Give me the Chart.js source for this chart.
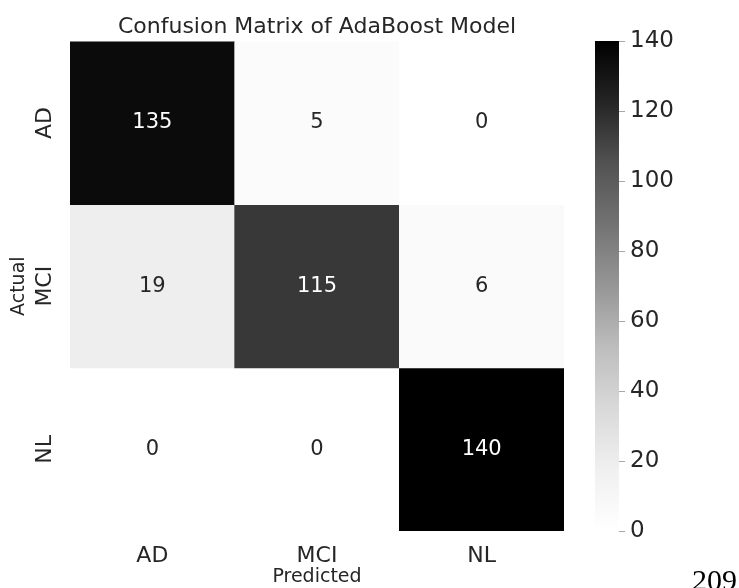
<!DOCTYPE html>
<html>
<head>
<meta charset="utf-8">
<script src="https://cdn.jsdelivr.net/npm/chart.js@4.4.1/dist/chart.umd.min.js"></script>
<style>
  html, body { margin: 0; padding: 0; background: #ffffff; width: 739px; height: 588px; overflow: hidden; }
  #wrap { position: relative; width: 739px; height: 588px; }
  #heat { position: absolute; left: 0; top: 0; }
  #cbar { position: absolute; left: 580px; top: 0; }
  #page { position: absolute; left: 692px; top: 565px; font-family: "Liberation Serif", serif; font-size: 30px; line-height: 30px; color: #000; }
</style>
</head>
<body>
<div id="wrap">
  <canvas id="heat" width="580" height="588"></canvas>
  <canvas id="cbar" width="159" height="588"></canvas>
  <div id="page">209</div>
</div>
<script>
// Class labels
const predictedLabels = ['AD', 'MCI', 'NL'];
const actualLabels = ['AD', 'MCI', 'NL'];

// Confusion-matrix counts, one array per actual class (columns = predicted class)
const countsAD = [135, 5, 0];
const countsMCI = [19, 115, 6];
const countsNL = [0, 0, 140];

// Colour scale range and tick spacing
const colorMin = 0;
const colorMax = 140;
const colorStep = 20;

const FONT = '"DejaVu Sans", sans-serif';
const TEXT = '#262626';

// "Greys" sequential palette, white -> black
const greysStops = ['#ffffff', '#f0f0f0', '#d9d9d9', '#bdbdbd', '#969696', '#737373', '#525252', '#252525', '#000000'];
function hexToRgb(h) { return [1, 3, 5].map(i => parseInt(h.substr(i, 2), 16)); }
const greysRgb = greysStops.map(hexToRgb);
function greys(t) {
  t = Math.max(0, Math.min(1, t));
  const pos = t * (greysRgb.length - 1);
  const i = Math.min(Math.floor(pos), greysRgb.length - 2);
  const f = pos - i;
  return greysRgb[i].map((c, k) => Math.round(c + (greysRgb[i + 1][k] - c) * f));
}
const rgbCss = c => `rgb(${c[0]},${c[1]},${c[2]})`;
const norm = v => (v - colorMin) / (colorMax - colorMin);
function luminance(c) {
  const lin = c.map(x => { x /= 255; return x <= 0.03928 ? x / 12.92 : Math.pow((x + 0.055) / 1.055, 2.4); });
  return 0.2126 * lin[0] + 0.7152 * lin[1] + 0.0722 * lin[2];
}

Chart.defaults.font.family = FONT;
Chart.defaults.color = TEXT;

// One dataset per actual class; each cell is a floating bar spanning its row
const rows = [countsAD, countsMCI, countsNL];
const datasets = rows.map((row, r) => ({
  label: actualLabels[r],
  data: row.map((v, c) => ({ x: predictedLabels[c], y: [r, r + 1], v: v })),
  backgroundColor: ctx => rgbCss(greys(norm(ctx.raw ? ctx.raw.v : 0))),
  borderWidth: 0,
  borderSkipped: false,
  barPercentage: 1,
  categoryPercentage: 1
}));

// Writes each count in the middle of its cell
const cellValuePlugin = {
  id: 'cellValues',
  afterDatasetsDraw(chart) {
    const ctx = chart.ctx;
    ctx.save();
    ctx.font = '21px ' + FONT;
    ctx.textAlign = 'center';
    ctx.textBaseline = 'middle';
    chart.data.datasets.forEach((ds, di) => {
      chart.getDatasetMeta(di).data.forEach((bar, i) => {
        const v = ds.data[i].v;
        const p = bar.getProps(['x', 'y', 'base'], true);
        ctx.fillStyle = luminance(greys(norm(v))) > 0.408 ? TEXT : '#ffffff';
        ctx.fillText(String(v), p.x, (p.y + p.base) / 2);
      });
    });
    ctx.restore();
  }
};

// Vertical row labels placed at the centre of each row of the y scale
const rowLabelPlugin = {
  id: 'rowLabels',
  afterDraw(chart) {
    const ys = chart.scales.y;
    const ctx = chart.ctx;
    ctx.save();
    ctx.font = '22px ' + FONT;
    ctx.fillStyle = TEXT;
    ctx.textAlign = 'center';
    ctx.textBaseline = 'middle';
    actualLabels.forEach((lab, i) => {
      ctx.save();
      ctx.translate(45, ys.getPixelForValue(i + 0.5));
      ctx.rotate(-Math.PI / 2);
      ctx.fillText(lab, 0, 0);
      ctx.restore();
    });
    ctx.restore();
  }
};

new Chart(document.getElementById('heat'), {
  type: 'bar',
  data: { labels: predictedLabels, datasets: datasets },
  options: {
    responsive: false,
    animation: false,
    events: [],
    layout: { padding: { left: 0, right: 16, top: 0, bottom: 0 } },
    plugins: {
      legend: { display: false },
      tooltip: { enabled: false },
      title: {
        display: true,
        text: 'Confusion Matrix of AdaBoost Model',
        fullSize: false,
        color: TEXT,
        font: { family: FONT, size: 22, weight: 'normal' },
        padding: { top: 14, bottom: 1 }
      }
    },
    scales: {
      x: {
        type: 'category',
        stacked: true,
        offset: true,
        grid: { display: false, drawTicks: false },
        border: { display: false },
        ticks: { font: { size: 22 }, color: TEXT, padding: 12 },
        title: { display: true, text: 'Predicted', color: TEXT, font: { size: 19 }, padding: { top: 0, bottom: 0 } },
        afterFit: s => { s.height = 57; }
      },
      y: {
        type: 'linear',
        min: 0,
        max: 3,
        reverse: true,
        stacked: false,
        grid: { display: false, drawTicks: false },
        border: { display: false },
        ticks: { display: false },
        title: { display: true, text: 'Actual', color: TEXT, font: { size: 19 }, padding: { top: 8, bottom: 0 } },
        afterFit: s => { s.width = 70; }
      }
    }
  },
  plugins: [cellValuePlugin, rowLabelPlugin]
});

// Colour bar: one floating bar across the full value range, filled with the palette
function barGradient(ctx) {
  const chart = ctx.chart;
  const ys = chart.scales.y;
  if (!chart.chartArea || !ys) return '#888888';
  const y0 = ys.getPixelForValue(colorMin);
  const y1 = ys.getPixelForValue(colorMax);
  if (!isFinite(y0) || !isFinite(y1)) return '#888888';
  const g = chart.ctx.createLinearGradient(0, y0, 0, y1);
  greysStops.forEach((c, i) => g.addColorStop(i / (greysStops.length - 1), c));
  return g;
}

const cbarChart = new Chart(document.getElementById('cbar'), {
  type: 'bar',
  data: {
    labels: [''],
    datasets: [{
      data: [[colorMin, colorMax]],
      backgroundColor: barGradient,
      borderWidth: 0,
      borderSkipped: false,
      barPercentage: 1,
      categoryPercentage: 1
    }]
  },
  options: {
    responsive: false,
    animation: false,
    events: [],
    layout: { padding: { left: 15, right: 0, top: 41, bottom: 57 } },
    plugins: { legend: { display: false }, tooltip: { enabled: false }, title: { display: false } },
    scales: {
      x: { display: false },
      y: {
        position: 'right',
        min: colorMin,
        max: colorMax,
        ticks: { stepSize: colorStep, font: { size: 23 }, color: TEXT, padding: 5 },
        grid: { drawOnChartArea: false, drawTicks: true, tickLength: 6, color: '#a8a8a8', lineWidth: 1 },
        border: { display: false },
        afterFit: s => { s.width = 120; }
      }
    }
  }
});
// Re-resolve the fill once the scale has its final pixel range
cbarChart.update('none');
</script>
</body>
</html>
